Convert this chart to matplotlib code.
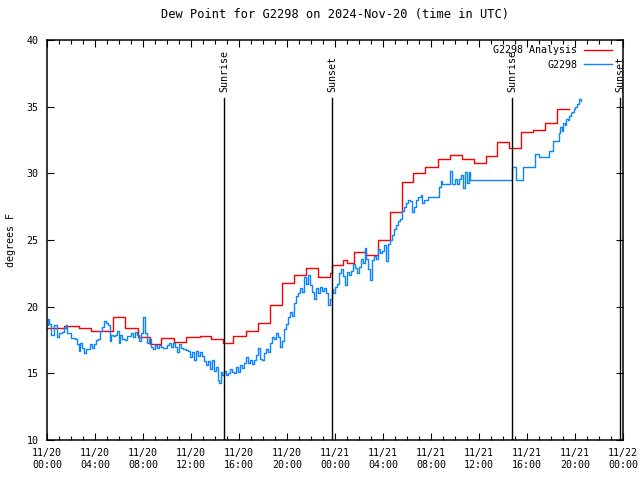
import numpy as np
import matplotlib
matplotlib.use('Agg')
import matplotlib.pyplot as plt
import matplotlib.dates as mdates

# hours after 2024-11-20 00:00 UTC
red_hours = [0.0, 1.42, 2.67, 3.67, 5.5, 6.5, 7.58, 8.58, 9.5, 10.58, 11.58, 12.75,
             13.67, 14.67, 15.5, 16.58, 17.58, 18.58, 19.58, 20.58, 21.58, 22.58,
             23.58, 23.75, 24.67, 24.96, 25.58, 26.58, 27.58, 28.58, 29.58, 30.5,
             31.5, 32.58, 33.58, 34.58, 35.58, 36.58, 37.5, 38.5, 39.5, 40.5, 41.5,
             42.5, 43.5]
red_vals = [18.4, 18.55, 18.4, 18.15, 19.2, 18.4, 17.7, 17.2, 17.65, 17.35, 17.7, 17.8,
            17.6, 17.25, 17.8, 18.2, 18.8, 20.1, 21.8, 22.35, 22.9, 22.2,
            22.5, 23.1, 23.5, 23.3, 24.1, 23.9, 25.0, 27.1, 29.35, 30.0,
            30.5, 31.1, 31.35, 31.05, 30.8, 31.3, 32.35, 31.9, 33.1, 33.25, 33.75,
            34.85, 34.85]

blue_hours = [0.00, 0.08, 0.17, 0.33, 0.58, 0.86, 1.00, 1.25, 1.42, 1.58, 1.69, 1.98,
              2.33, 2.50, 2.67, 2.75, 2.92, 3.08, 3.25, 3.42, 3.58, 3.75, 3.92, 4.08,
              4.25, 4.42, 4.58, 4.75, 4.92, 5.08, 5.21, 5.33, 5.50, 5.67, 5.83, 5.96,
              6.08, 6.25, 6.50, 6.67, 6.83, 7.00, 7.17, 7.33, 7.50, 7.67, 7.83, 8.00,
              8.17, 8.33, 8.50, 8.67, 8.83, 9.00, 9.17, 9.33, 9.50, 9.67, 9.83, 10.00,
              10.17, 10.33, 10.50, 10.67, 10.83, 11.00, 11.17, 11.33, 11.58, 11.75,
              11.92, 12.08, 12.25, 12.42, 12.58, 12.75, 12.92, 13.08, 13.25, 13.42,
              13.58, 13.75, 13.92, 14.08, 14.21, 14.33, 14.46, 14.58, 14.75, 14.92,
              15.08, 15.25, 15.42, 15.58, 15.75, 15.92, 16.08, 16.25, 16.42, 16.58,
              16.75, 16.92, 17.08, 17.25, 17.42, 17.58, 17.75, 17.92, 18.08, 18.25,
              18.42, 18.58, 18.75, 18.92, 19.08, 19.25, 19.42, 19.58, 19.75, 19.92,
              20.08, 20.25, 20.42, 20.58, 20.75, 20.92, 21.08, 21.25, 21.42, 21.58,
              21.75, 21.92, 22.08, 22.25, 22.42, 22.58, 22.75, 22.92, 23.08, 23.25,
              23.42, 23.58, 23.71, 23.83, 24.00, 24.17, 24.33, 24.50, 24.67, 24.83,
              25.00, 25.17, 25.33, 25.50, 25.67, 25.83, 26.00, 26.17, 26.33, 26.46,
              26.58, 26.75, 26.92, 27.08, 27.25, 27.42, 27.58, 27.75, 27.92, 28.08,
              28.25, 28.42, 28.58, 28.75, 28.92, 29.08, 29.25, 29.42, 29.58, 29.75,
              29.92, 30.08, 30.25, 30.42, 30.58, 30.75, 30.92, 31.08, 31.17, 31.25,
              31.42, 31.75, 32.58, 32.67, 32.83, 32.92, 33.58, 33.79, 34.00, 34.17,
              34.33, 34.54, 34.67, 34.83, 35.00, 35.13, 35.25, 38.75, 39.08, 39.67,
              40.67, 41.00, 41.83, 42.13, 42.67, 42.79, 42.92, 43.04, 43.17, 43.29,
              43.42, 43.54, 43.67, 43.79, 43.92, 44.04, 44.17, 44.33, 44.54]
blue_vals = [18.6, 19.1, 18.7, 17.9, 18.6, 17.7, 18.0, 18.1, 18.4, 18.6, 18.0, 17.65,
             17.6, 17.2, 16.7, 17.3, 16.9, 16.5, 16.8, 16.8, 17.2, 16.9, 17.2, 17.5,
             17.6, 18.2, 18.5, 18.9, 18.8, 18.6, 17.4, 17.9, 17.8, 17.9, 18.2, 17.3,
             17.9, 17.6, 17.5, 17.8, 17.8, 18.0, 17.7, 18.1, 17.9, 17.4, 18.0, 19.2,
             18.0, 17.3, 17.6, 17.0, 16.8, 17.1, 16.9, 17.1, 17.0, 16.9, 16.9, 17.1,
             17.3, 17.0, 17.3, 17.0, 16.6, 17.2, 16.9, 16.8, 16.75, 16.7,
             16.2, 16.6, 16.0, 16.7, 16.3, 16.6, 16.3, 15.9, 15.6, 15.9,
             15.3, 16.0, 15.2, 15.5, 14.5, 14.3, 15.1, 14.9, 15.2, 14.9,
             15.0, 15.3, 15.1, 15.0, 15.5, 15.1, 15.6, 15.4, 15.8, 16.2,
             15.8, 16.0, 15.7, 16.0, 16.4, 16.9, 16.1, 16.0, 16.5, 16.8,
             16.6, 17.3, 17.7, 17.6, 18.0, 17.7, 17.0, 17.4, 18.3, 18.7,
             19.2, 19.6, 19.3, 20.3, 20.8, 21.0, 21.4, 21.1, 22.2, 21.7,
             22.4, 21.6, 21.1, 20.6, 21.4, 21.0, 21.5, 21.2, 21.4, 21.0,
             20.1, 20.6, 21.3, 21.0, 21.5, 21.7, 22.5, 22.8, 22.3, 21.6,
             22.6, 22.4, 22.7, 23.2, 22.9, 22.5, 23.0, 23.6, 23.3, 24.4,
             23.6, 22.8, 22.0, 23.5, 23.8, 23.6, 24.3, 24.0, 24.2, 24.6,
             23.4, 24.7, 25.0, 25.4, 25.8, 26.1, 26.4, 26.6, 27.2, 27.5,
             27.8, 28.0, 27.9, 27.1, 27.5, 28.0, 28.2, 28.2, 28.4, 27.75,
             28.0, 28.25, 28.25, 29.0, 29.4, 29.2, 30.2, 29.2, 29.55, 29.2,
             29.55, 29.9, 28.9, 30.1, 29.3, 30.1, 29.5, 30.45, 29.5, 30.45,
             31.45, 31.2, 31.7, 32.45, 33.0, 33.5, 33.2, 33.8, 33.6, 34.1,
             34.0, 34.3, 34.5, 34.6, 34.8, 35.0, 35.2, 35.6, 35.4]

sun_names = ['Sunrise', 'Sunset', 'Sunrise', 'Sunset']
sun_hours = [14.75, 23.75, 38.75, 47.75]

start = np.datetime64('2024-11-20T00:00')


def to_time(hours):
    return start + (np.array(hours) * 60).round().astype('timedelta64[m]')


font = 'DejaVu Sans Mono'
plt.rcParams['font.family'] = font
plt.rcParams['font.size'] = 7.2

fig = plt.figure(figsize=(6.4, 4.8), dpi=100)
ax = fig.add_axes([47 / 640, 40 / 480, 576 / 640, 400 / 480])

ax.plot(to_time(red_hours), red_vals, color='#ff0000', lw=1.0,
        drawstyle='steps-post', label='G2298 Analysis')
ax.plot(to_time(blue_hours), blue_vals, color='#0a84ff', lw=1.0,
        drawstyle='steps-post', label='G2298')

for name, t in zip(sun_names, to_time(sun_hours)):
    ax.axvline(t, ymin=0, ymax=0.855, color='black', lw=1.0)
    ax.text(t, 0.87, name, transform=ax.get_xaxis_transform(), rotation=90,
            ha='center', va='bottom')

ax.set_xlim(start, start + np.timedelta64(48, 'h'))
ax.set_ylim(10, 40)
ax.set_yticks([10, 15, 20, 25, 30, 35, 40])
ax.xaxis.set_major_locator(mdates.HourLocator(byhour=range(0, 24, 4)))
ax.xaxis.set_minor_locator(mdates.HourLocator())
ax.xaxis.set_major_formatter(mdates.DateFormatter('%m/%d\n%H:%M'))
ax.tick_params(which='both', direction='in', top=True, right=True, width=0.8)
ax.tick_params(which='major', length=5, pad=6)
ax.tick_params(which='minor', length=3)
for s in ax.spines.values():
    s.set_linewidth(1.1)

ax.set_title('Dew Point for G2298 on 2024-Nov-20 (time in UTC)', pad=16)
ax.set_ylabel('degrees F', labelpad=8)

ax.legend(loc='upper right', bbox_to_anchor=(612 / 640, 435 / 480),
          bbox_transform=fig.transFigure, frameon=False, markerfirst=False,
          handlelength=2.8, handletextpad=0.7, labelspacing=0.45,
          borderpad=0, borderaxespad=0)

fig.savefig('out.png', dpi=100)
